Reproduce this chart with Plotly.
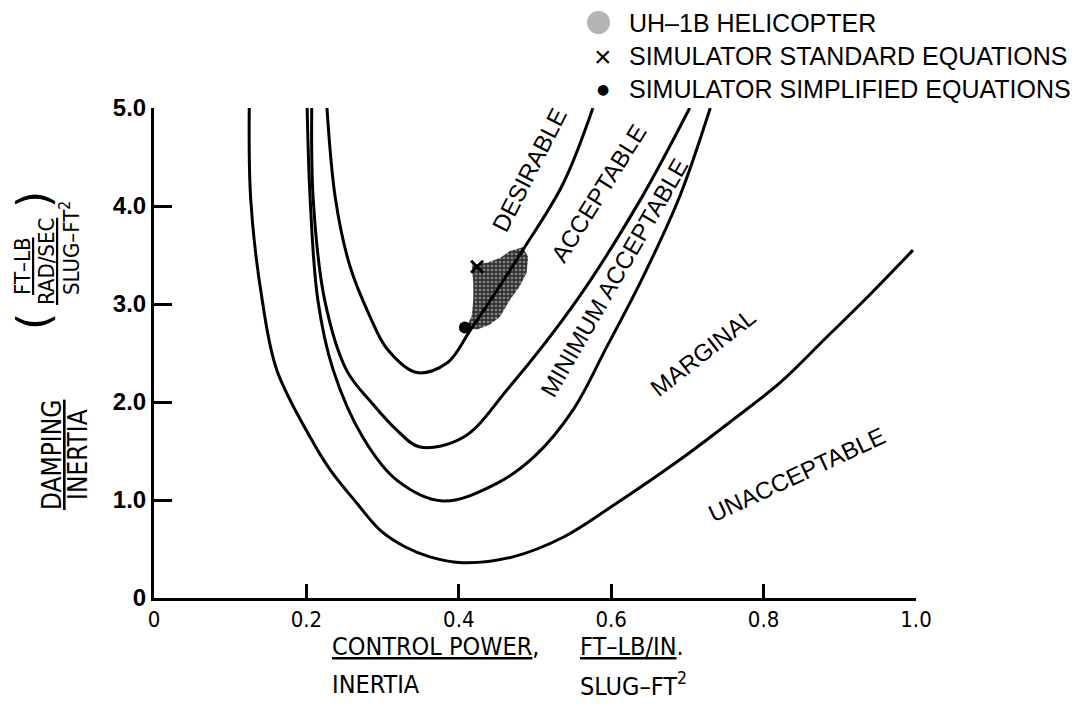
import plotly.graph_objects as go

# boundary curves: x = control power / inertia, y = damping / inertia
unacc_x = [0.125, 0.127, 0.142, 0.161, 0.205, 0.231, 0.266, 0.297, 0.330, 0.362, 0.406, 0.471, 0.537,
           0.600, 0.690, 0.760, 0.822, 0.880, 0.940, 0.996]
unacc_y = [5.0, 4.06, 3.04, 2.33, 1.64, 1.31, 0.97, 0.69, 0.52, 0.42, 0.36, 0.42, 0.62,
           0.93, 1.41, 1.82, 2.20, 2.64, 3.10, 3.55]

marg_x = [0.201, 0.205, 0.215, 0.235, 0.274, 0.319, 0.379, 0.450, 0.500, 0.550, 0.594, 0.642, 0.690, 0.730]
marg_y = [5.0, 4.06, 3.04, 2.33, 1.64, 1.20, 0.99, 1.17, 1.45, 1.92, 2.56, 3.28, 4.10, 5.0]

minacc_x = [0.207, 0.209, 0.224, 0.253, 0.287, 0.319, 0.349, 0.406, 0.465, 0.555, 0.638, 0.703]
minacc_y = [5.0, 4.06, 3.04, 2.32, 1.98, 1.71, 1.54, 1.64, 2.14, 3.04, 4.06, 5.0]

acc_x = [0.227, 0.238, 0.257, 0.283, 0.306, 0.345, 0.385, 0.415, 0.484, 0.537, 0.576]
acc_y = [5.0, 4.08, 3.39, 2.88, 2.54, 2.30, 2.40, 2.73, 3.55, 4.23, 5.0]

# UH-1B helicopter region outline
heli_x = [0.417, 0.437, 0.454, 0.467, 0.484, 0.491, 0.489, 0.480, 0.467, 0.454, 0.441, 0.424, 0.410, 0.417, 0.419, 0.419, 0.417]
heli_y = [3.40, 3.42, 3.47, 3.54, 3.58, 3.48, 3.32, 3.18, 3.04, 2.87, 2.79, 2.74, 2.76, 2.88, 3.04, 3.21, 3.40]

std_x, std_y = [0.424], [3.38]
simp_x, simp_y = [0.408], [2.76]

x_ticks = [0, 0.2, 0.4, 0.6, 0.8, 1.0]
x_ticktext = ["0", "0.2", "0.4", "0.6", "0.8", "1.0"]
y_ticks = [0, 1, 2, 3, 4, 5]
y_ticktext = ["0", "1.0", "2.0", "3.0", "4.0", "5.0"]

region_labels = ["DESIRABLE", "ACCEPTABLE", "MINIMUM ACCEPTABLE", "MARGINAL", "UNACCEPTABLE"]
label_x = [0.493, 0.583, 0.604, 0.720, 0.844]
label_y = [4.37, 4.13, 3.27, 2.51, 1.26]
label_angle = [-63, -58, -60, -38, -25]

W, H = 1090, 705
# page body adds 8px, so the margins are pulled in by that much
L, R, T, B = 146, 182, 100, 115


def px(x, y):
    # pixel position in the reference -> paper coords of the plot area
    return (x - 154) / 762, (598 - y) / 490


fig = go.Figure()

fig.add_trace(go.Scatter(x=heli_x, y=heli_y, mode="lines", fill="toself",
                         line=dict(color="rgba(0,0,0,0)", width=0),
                         fillcolor="#3a3a3a",
                         fillpattern=dict(shape=".", fgcolor="#d8d8d8", bgcolor="#333333",
                                          size=4, solidity=0.35)))

for cx, cy in [(unacc_x, unacc_y), (marg_x, marg_y), (minacc_x, minacc_y), (acc_x, acc_y)]:
    fig.add_trace(go.Scatter(x=cx, y=cy, mode="lines",
                             line=dict(color="black", width=3, shape="spline", smoothing=1.0)))

fig.add_trace(go.Scatter(x=std_x, y=std_y, mode="markers",
                         marker=dict(symbol="x-thin", size=12, line=dict(color="black", width=3))))
fig.add_trace(go.Scatter(x=simp_x, y=simp_y, mode="markers",
                         marker=dict(symbol="circle", size=12, color="black")))

for t, x, y, a in zip(region_labels, label_x, label_y, label_angle):
    fig.add_annotation(x=x, y=y, text=t, textangle=a, showarrow=False,
                       xanchor="center", yanchor="middle",
                       font=dict(family="Liberation Sans", size=24, color="black"))


def note(x, y, text, size, family="DejaVu Sans Condensed", angle=0, xanchor="center"):
    ax, ay = px(x, y)
    fig.add_annotation(xref="paper", yref="paper", x=ax, y=ay, text=text, textangle=angle,
                       showarrow=False, xanchor=xanchor, yanchor="middle",
                       font=dict(family=family, size=size, color="black"))


# legend block
note(627, 23, "UH\u20131B HELICOPTER", 25, "Liberation Sans", xanchor="left")
note(627, 56, "SIMULATOR STANDARD EQUATIONS", 25, "Liberation Sans", xanchor="left")
note(627, 89, "SIMULATOR SIMPLIFIED EQUATIONS", 25, "Liberation Sans", xanchor="left")
note(603, 56, "\u00d7", 30, "Liberation Sans")
note(603, 89, "\u25cf", 14, "DejaVu Sans")
x0, y0 = px(587, 11)
x1, y1 = px(610, 34)
fig.add_shape(type="circle", xref="paper", yref="paper", x0=x0, y0=y1, x1=x1, y1=y0,
              fillcolor="#b4b4b4", line=dict(width=0))

# y axis title blocks
note(52, 455, "<u>DAMPING</u>", 26, angle=-90)
note(78, 455, "INERTIA", 26, angle=-90)
note(22, 266, "<u>FT\u2013LB</u>", 22, angle=-90)
note(46, 262, "<u>RAD/SEC</u>", 22, angle=-90)
note(70, 248, "SLUG\u2013FT<sup>2</sup>", 22, angle=-90)
note(33, 322, "(", 44, "DejaVu Sans", angle=-90)
note(33, 200, ")", 44, "DejaVu Sans", angle=-90)

# x axis title blocks
note(330, 646, "<u>CONTROL POWER</u>,", 25, xanchor="left")
note(330, 684, "INERTIA", 25, xanchor="left")
note(578, 646, "<u>FT\u2013LB/IN</u>.", 25, xanchor="left")
note(578, 684, "SLUG\u2013FT<sup>2</sup>", 25, xanchor="left")

fig.update_layout(
    width=W, height=H,
    margin=dict(l=L, r=R, t=T, b=B),
    paper_bgcolor="white", plot_bgcolor="white",
    showlegend=False,
)
fig.update_xaxes(range=[0, 1], tickvals=x_ticks, ticktext=x_ticktext,
                 showgrid=False, zeroline=False, showline=True, linecolor="black", linewidth=3,
                 ticks="inside", ticklen=14, tickwidth=3, tickcolor="black",
                 tickfont=dict(family="DejaVu Sans Condensed", size=22, color="black"))
fig.update_yaxes(range=[0, 5], tickvals=y_ticks, ticktext=y_ticktext,
                 showgrid=False, zeroline=False, showline=True, linecolor="black", linewidth=3,
                 ticks="inside", ticklen=18, tickwidth=3, tickcolor="black",
                 tickfont=dict(family="Liberation Sans", size=24, color="black", weight="bold"))

fig.write_html("out.html")
